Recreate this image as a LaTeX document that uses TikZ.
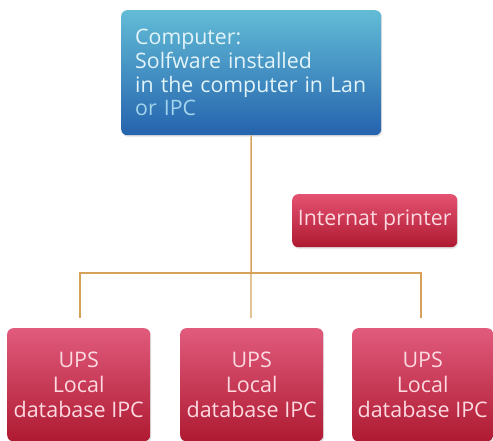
\documentclass[tikz,border=0pt]{standalone}
\usepackage{fontspec}
\setmainfont{Open Sans}
\usetikzlibrary{shadows}
\definecolor{linec}{HTML}{D6A259}
\definecolor{bluetop}{HTML}{62BCD6}
\definecolor{bluebot}{HTML}{2563AE}
\definecolor{bluetext}{HTML}{E2F4F9}
\definecolor{bluetext2}{HTML}{A2D4EC}
\definecolor{redtop}{HTML}{E15B7D}
\definecolor{redbot}{HTML}{AE1A31}
\definecolor{redtext}{HTML}{FCD9E0}
\begin{document}
\begin{tikzpicture}[x=1pt,y=-1pt,
  conn/.style={draw=linec, line width=1.4pt},
  boxbase/.style={rounded corners=6pt, inner sep=0pt, anchor=north west,
    drop shadow={shadow xshift=1pt, shadow yshift=-1.5pt, opacity=0.25}},
  bluebox/.style={boxbase, top color=bluetop, bottom color=bluebot, text=bluetext,
    align=left, font=\fontsize{21.3}{23.7}\selectfont},
  redbox/.style={boxbase, top color=redtop, bottom color=redbot, text=redtext,
    align=center, font=\fontsize{21.5}{25}\selectfont,
    minimum width=143pt, minimum height=113pt}]
\useasboundingbox (0,0) rectangle (493,441);
\node[bluebox, minimum width=260pt, minimum height=125pt, text width=232pt] (comp) at (121,10)
  {Computer:\\Solfware installed\\in the computer in Lan\\{\color{bluetext2}or IPC}\\[-4pt]};
\node[boxbase, top color=redtop!90!red, bottom color=redbot, text=redtext,
  minimum width=165pt, minimum height=53pt, font=\fontsize{21.3}{23}\selectfont] (printer) at (292,194)
  {Internat printer};
\node[redbox] (ups1) at (7,328) {UPS\\Local\\database IPC};
\node[redbox] (ups2) at (180,328) {UPS\\Local\\database IPC};
\node[redbox, minimum width=141pt] (ups3) at (352,328) {UPS\\Local\\database IPC};
\coordinate (j) at (251,273);
\coordinate (jl) at (80,273);
\coordinate (jr) at (421,273);
\coordinate (d1) at (80,318);
\coordinate (d2) at (251,318);
\coordinate (d3) at (421,318);
\draw[conn] (comp.south) -- (d2);
\draw[conn] (d1) -- (jl) -- (jr) -- (d3);
\end{tikzpicture}
\end{document}
